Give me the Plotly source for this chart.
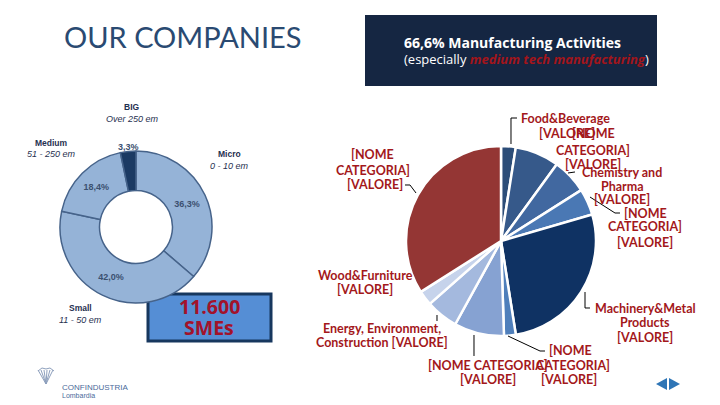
import plotly.graph_objects as go

W, H = 720, 405

# left donut: company size
size_names = ['Micro', 'Small', 'Medium', 'Big']
size_share = [36.3, 42.0, 18.4, 3.3]
size_colors = ['#95b3d7', '#95b3d7', '#95b3d7', '#1b3a63']

# right pie: sectors (clockwise from 12 o'clock)
sector_names = ['Food&Beverage', 'NOME 1', 'Chemistry and Pharma', 'NOME 2',
                'Machinery&Metal Products', 'NOME 3', 'NOME 4',
                'Energy, Environment, Construction', 'Wood&Furniture', 'NOME 5']
sector_share = [2.5, 7.5, 6.0, 4.5, 27.0, 2.0, 8.5, 5.5, 2.5, 34.0]
sector_colors = ['#2c4d78', '#36598a', '#4168a0', '#4a78b4', '#0f3263',
                 '#4f7fbb', '#86a2d2', '#a4b9de', '#c6d3eb', '#943634']


def px(x, y):
    return x / W, 1 - y / H


def dom(cx, cy, r):
    return dict(x=[(cx - r) / W, (cx + r) / W], y=[1 - (cy + r) / H, 1 - (cy - r) / H])


fig = go.Figure()

fig.add_trace(go.Pie(
    labels=size_names, values=size_share, sort=False, direction='clockwise',
    rotation=0, hole=0.48, domain=dom(136, 227, 76),
    marker=dict(colors=size_colors, line=dict(color='#46638a', width=1.5)),
    texttemplate=[f'<b>{v:.1f}%</b>'.replace('.', ',') for v in size_share],
    textposition=['inside', 'inside', 'inside', 'none'],
    insidetextorientation='horizontal',
    textfont=dict(family='Liberation Sans', size=9, color='#3b5070'),
    hoverinfo='label+percent', showlegend=False,
))

fig.add_trace(go.Pie(
    labels=sector_names, values=sector_share, sort=False, direction='clockwise',
    rotation=0, domain=dom(501, 241, 95),
    marker=dict(colors=sector_colors, line=dict(color='white', width=2.5)),
    textinfo='none', hoverinfo='label+percent', showlegend=False,
))

ann = []


def text(x, y, s, size=12.5, color='#a3181b', family='Lato', xanchor='center', **kw):
    ax, ay = px(x, y)
    ann.append(dict(x=ax, y=ay, xref='paper', yref='paper', text=s, showarrow=False,
                    xanchor=xanchor, yanchor='middle',
                    font=dict(size=size, color=color, family=family), **kw))


# titles
text(62, 36, 'OUR COMPANIES', size=29, color='#2a4a72', xanchor='left')
text(512, 42, '<b>66,6% Manufacturing Activities</b>', size=14, color='white', family='Open Sans')
text(526, 59, "(especially <b><i><span style='color:#a3151b'>medium tech manufacturing</span></i></b>)",
     size=13, color='white', family='Open Sans')

# donut labels
lab = '#1f3050'
text(132, 107, '<b>BIG</b>', size=8.5, color=lab, family='Liberation Sans')
text(132, 119, '<i>Over 250 em</i>', size=9, color=lab, family='Liberation Sans')
text(52, 143, '<b>Medium</b>', size=8.5, color=lab, family='Liberation Sans')
text(52, 154, '<i>51 - 250 em</i>', size=9, color=lab, family='Liberation Sans')
text(230, 154, '<b>Micro</b>', size=8.5, color=lab, family='Liberation Sans')
text(230, 166, '<i>0 - 10 em</i>', size=9, color=lab, family='Liberation Sans')
text(80, 308, '<b>Small</b>', size=8.5, color=lab, family='Liberation Sans')
text(80, 320, '<i>11 - 50 em</i>', size=9, color=lab, family='Liberation Sans')
text(128, 147, '<b>3,3%</b>', size=9, color='#3b5070', family='Liberation Sans')

# SMEs box
text(209, 306, '<b>11.600</b>', size=19.5, color='#a3122a', family='Open Sans')
text(209, 327, '<b>SMEs</b>', size=19.5, color='#a3122a', family='Open Sans')

# sector labels
text(565, 118, '<b>Food&Beverage</b>')
text(567, 133, '<b>[VALORE]</b>')
text(593, 134, '<b>[NOME</b>')
text(593, 150, '<b>CATEGORIA]</b>')
text(593, 164, '<b>[VALORE]</b>')
text(622, 172, '<b>Chemistry and</b>')
text(622, 186, '<b>Pharma</b>')
text(622, 199, '<b>[VALORE]</b>')
text(645, 213, '<b>[NOME</b>')
text(645, 227, '<b>CATEGORIA]</b>')
text(645, 242, '<b>[VALORE]</b>')
text(645, 308, '<b>Machinery&Metal</b>')
text(645, 322, '<b>Products</b>')
text(645, 337, '<b>[VALORE]</b>')
text(570, 350, '<b>[NOME</b>')
text(573, 365, '<b>CATEGORIA]</b>')
text(569, 379, '<b>[VALORE]</b>')
text(488, 365, '<b>[NOME CATEGORIA]</b>')
text(488, 379, '<b>[VALORE]</b>')
text(382, 328, '<b>Energy, Environment,</b>')
text(382, 342, '<b>Construction [VALORE]</b>')
text(365, 275, '<b>Wood&Furniture</b>')
text(365, 289, '<b>[VALORE]</b>')
text(372, 155, '<b>[NOME</b>')
text(373, 170, '<b>CATEGORIA]</b>')
text(375, 184, '<b>[VALORE]</b>')

# logo text
text(60, 387, 'CONFINDUSTRIA', size=8, color='#4a6a9a', family='Liberation Sans', xanchor='left')
text(60, 395, 'Lombardia', size=7, color='#4a6a9a', family='Liberation Sans', xanchor='left')

shapes = []


def path(points, color='black', width=1, fill=None):
    d = 'M' + ' L'.join(f'{x / W:.5f},{1 - y / H:.5f}' for x, y in points)
    if fill:
        d += ' Z'
    shapes.append(dict(type='path', xref='paper', yref='paper', path=d,
                       line=dict(color=color, width=width),
                       fillcolor=fill if fill else 'rgba(0,0,0,0)'))


def rect(x0, y0, x1, y1, fill, line=None, lw=0):
    shapes.append(dict(type='rect', xref='paper', yref='paper', layer='below',
                       x0=x0 / W, x1=x1 / W, y0=1 - y1 / H, y1=1 - y0 / H,
                       fillcolor=fill, line=dict(color=line or fill, width=lw)))


rect(365, 15, 657, 86, '#152642')
rect(148, 294, 271, 341, '#558ed5', '#17375e', 3)

# small shell emblem of the logo
for tx in (38, 41, 44, 47, 50, 53):
    path([(46, 384), (tx, 370)], color='#8ea0bd', width=1)
path([(38, 371), (42, 368), (46, 369), (50, 368), (54, 371)], color='#8ea0bd', width=1)

# leader lines
path([(517, 118), (511, 118), (511, 144)])
path([(405, 185), (410, 185), (416, 193)])
path([(568, 173), (575, 172)])
path([(590, 197), (615, 213), (620, 213)])
path([(585, 292), (585, 308), (590, 308)])
path([(508, 336), (540, 351), (545, 351)])
path([(474, 335), (474, 356)])
path([(437, 315), (437, 321)])

# nav arrows
path([(667, 378), (667, 390), (656, 384)], color='#2e75b6', width=0, fill='#2e75b6')
path([(669, 378), (669, 390), (680, 384)], color='#2e75b6', width=0, fill='#2e75b6')

fig.update_layout(
    width=W, height=H, margin=dict(l=0, r=0, t=0, b=0),
    paper_bgcolor='white', plot_bgcolor='white',
    annotations=ann, shapes=shapes, showlegend=False,
)

fig.write_html('out.html', config={'displayModeBar': False},
               post_script="document.body.style.margin='0';")
